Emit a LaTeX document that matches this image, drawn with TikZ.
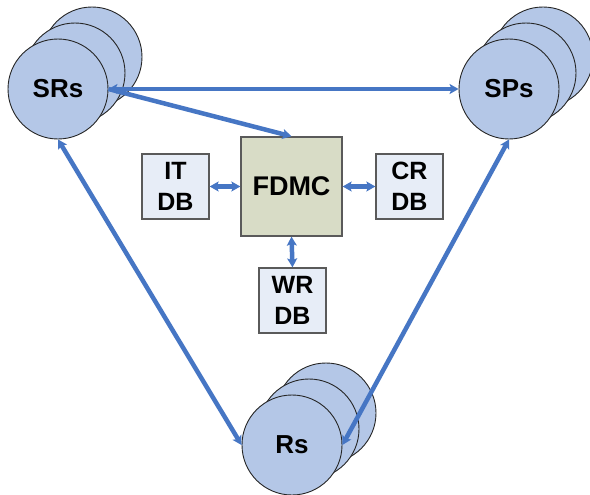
\documentclass[tikz,border=0pt]{standalone}
\usepackage{fontspec}
\setmainfont{Liberation Sans}
\usetikzlibrary{arrows.meta}
\definecolor{linkblue}{RGB}{70,118,196}
\definecolor{discfill}{RGB}{180,199,231}
\definecolor{ctrlfill}{RGB}{216,220,198}
\definecolor{dbfill}{RGB}{231,237,247}
\definecolor{boxline}{RGB}{90,90,90}
\tikzset{
  disc/.style={circle, draw=black!85, line width=0.9pt, fill=discfill,
    minimum size=100pt, inner sep=0pt, font=\bfseries\fontsize{26}{30}\selectfont},
  ctrl/.style={rectangle, draw=boxline, line width=1.3pt, fill=ctrlfill,
    minimum width=101pt, minimum height=99pt, inner sep=0pt,
    font=\bfseries\fontsize{27}{32}\selectfont},
  dbbox/.style={rectangle, draw=boxline, line width=1.3pt, fill=dbfill,
    minimum width=67pt, minimum height=65pt, inner sep=0pt, align=center,
    font=\bfseries\fontsize{25}{31}\selectfont},
  link/.style={draw=linkblue, line width=4.5pt,
    -{Stealth[length=9pt,width=10pt,inset=2pt]}},
  link2/.style={draw=linkblue, line width=4.5pt,
    {Stealth[length=9pt,width=10pt,inset=2pt]}-{Stealth[length=9pt,width=10pt,inset=2pt]}}
}
\begin{document}
\begin{tikzpicture}[x=1pt,y=-1pt]
\useasboundingbox (0,0) rectangle (590,495);
\fill[white] (0,0) rectangle (590,495);

% stacked discs: two back copies, then the labelled front disc
\node[disc] (srsc) at (92,57) {};
\node[disc] (srsb) at (75,73) {};
\node[disc] (srs)  at (58,89) {SRs};

\node[disc] (spsc) at (543,57) {};
\node[disc] (spsb) at (526,73) {};
\node[disc] (sps)  at (509,89) {SPs};

\node[disc] (rsc) at (326,413) {};
\node[disc] (rsb) at (309,429) {};
\node[disc] (rs)  at (292,445) {Rs};

% controller and its databases
\node[ctrl] (fdmc) at (291.5,186.5) {FDMC};
\node[dbbox] (itdb) at (175.5,186.5) {IT\\DB};
\node[dbbox] (crdb) at (409.5,186.5) {CR\\DB};
\node[dbbox] (wrdb) at (292.5,300.5) {WR\\DB};

% connectors
\draw[link2] (srs.east) -- (sps.west);
\draw[link] (srs.east) -- (fdmc.north);
\draw[link2] (srs.south) -- (rs.west);
\draw[link2] (sps.south) -- (rs.east);
\draw[link2] (itdb.east) -- (fdmc.west);
\draw[link2] (fdmc.east) -- (crdb.west);
\draw[link2] (fdmc.south) -- (wrdb.north);
\end{tikzpicture}
\end{document}
